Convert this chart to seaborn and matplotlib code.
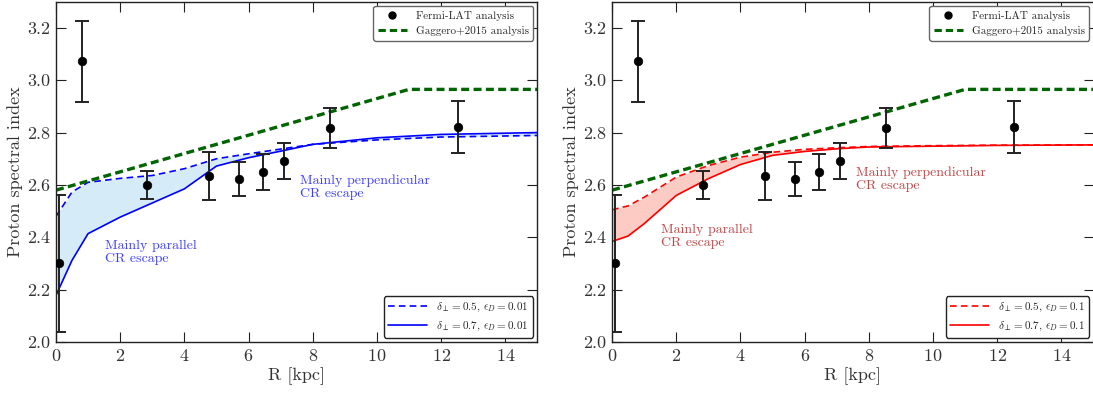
import numpy as np
import pandas as pd
import seaborn as sns
import matplotlib.pyplot as plt
from matplotlib.lines import Line2D

# Fermi-LAT points (R, index, error)
fermi_r = [0.1, 0.82, 2.84, 4.77, 5.69, 6.46, 7.10, 8.53, 12.52]
fermi_idx = [2.30, 3.073, 2.601, 2.634, 2.622, 2.650, 2.691, 2.817, 2.821]
fermi_err = [0.26, 0.155, 0.053, 0.09, 0.066, 0.07, 0.07, 0.075, 0.099]

# Gaggero+2015
gag_r = [0, 11, 15]
gag_idx = [2.58, 2.965, 2.965]

# model curves
model_r = [0, 0.5, 1, 2, 3, 4, 5, 6, 7, 8, 10, 12, 15]
blue_d05 = [2.48, 2.573, 2.61, 2.625, 2.636, 2.662, 2.70, 2.719, 2.737, 2.755, 2.772, 2.783, 2.789]
blue_d07 = [2.178, 2.312, 2.414, 2.477, 2.531, 2.585, 2.672, 2.704, 2.729, 2.755, 2.78, 2.793, 2.80]
red_d05 = [2.505, 2.52, 2.553, 2.63, 2.674, 2.706, 2.725, 2.736, 2.742, 2.747, 2.750, 2.752, 2.753]
red_d07 = [2.384, 2.405, 2.452, 2.56, 2.624, 2.678, 2.713, 2.728, 2.738, 2.745, 2.748, 2.751, 2.753]

panels = [
    dict(d05=blue_d05, d07=blue_d07, col="blue", fill="#d5ebf8", txt="#4040ff", eps="0.01",
         par=(1.52, 2.39), perp=(7.6, 2.64)),
    dict(d05=red_d05, d07=red_d07, col="red", fill="#fccbc3", txt="#c04848", eps="0.1",
         par=(1.52, 2.45), perp=(7.6, 2.672)),
]

sns.set_style("ticks")
plt.rcParams.update({
    "font.family": "serif",
    "font.serif": ["cmr10"],
    "mathtext.fontset": "cm",
    "axes.formatter.use_mathtext": True,
    "axes.unicode_minus": False,
    "axes.edgecolor": "#222222",
    "axes.linewidth": 1.0,
    "xtick.direction": "in",
    "ytick.direction": "in",
    "xtick.major.size": 7.5,
    "ytick.major.size": 7.5,
    "xtick.top": True,
    "ytick.right": True,
})

fig = plt.figure(figsize=(10.93, 3.94), dpi=100)
axes = [fig.add_axes([0.0512, 0.132, 0.4405, 0.8637]),
        fig.add_axes([0.5600, 0.132, 0.4405, 0.8637])]

df = pd.DataFrame({"R": model_r})

for ax, p in zip(axes, panels):
    df["d05"] = p["d05"]
    df["d07"] = p["d07"]
    ax.fill_between(df["R"], df["d05"], df["d07"], color=p["fill"], lw=0)
    sns.lineplot(data=df, x="R", y="d05", ax=ax, color=p["col"], lw=1.2,
                 dashes=False, linestyle=(0, (4, 2.5)))
    sns.lineplot(data=df, x="R", y="d07", ax=ax, color=p["col"], lw=1.2)
    sns.lineplot(x=gag_r, y=gag_idx, ax=ax, color="#006400", lw=2.4,
                 linestyle=(0, (2.4, 1.3)))
    ax.errorbar(fermi_r, fermi_idx, yerr=fermi_err, fmt="none", ecolor="#222222",
                elinewidth=1.4, capsize=5, capthick=1.4, zorder=4)
    sns.scatterplot(x=fermi_r, y=fermi_idx, ax=ax, color="black", s=38,
                    edgecolor="black", zorder=5)

    ax.text(p["par"][0], p["par"][1], "Mainly parallel\nCR escape", color=p["txt"],
            fontsize=10, va="top", ha="left", linespacing=1.1)
    ax.text(p["perp"][0], p["perp"][1], "Mainly perpendicular\nCR escape", color=p["txt"],
            fontsize=10, va="top", ha="left", linespacing=1.1)

    ax.set_xlim(0, 15)
    ax.set_ylim(2.0, 3.3)
    ax.set_xticks(np.arange(0, 15, 2))
    ax.set_yticks(np.arange(2.0, 3.21, 0.2))
    ax.set_yticklabels(["2.0", "2.2", "2.4", "2.6", "2.8", "3.0", "3.2"])
    ax.tick_params(labelsize=13, colors="#222222", labelcolor="#333333", pad=4)
    ax.set_xlabel("R [kpc]", fontsize=13, labelpad=3, color="#333333")
    ax.set_ylabel("Proton spectral index", fontsize=13, labelpad=3, color="#333333")

    h1 = [Line2D([], [], marker="o", ms=5, color="black", ls="none"),
          Line2D([], [], color="#006400", lw=2.2, ls=(0, (2.4, 1.3)))]
    leg1 = ax.legend(h1, ["Fermi-LAT analysis", "Gaggero+2015 analysis"],
                     loc="upper right", fontsize=8, borderaxespad=0.4,
                     fancybox=True, edgecolor="#666666", framealpha=1,
                     handlelength=2.6)
    ax.add_artist(leg1)
    h2 = [Line2D([], [], color=p["col"], lw=1.2, ls=(0, (4, 2.5))),
          Line2D([], [], color=p["col"], lw=1.2)]
    ax.legend(h2, [r"$\delta_\perp = 0.5$, $\epsilon_D = %s$" % p["eps"],
                   r"$\delta_\perp = 0.7$, $\epsilon_D = %s$" % p["eps"]],
              loc="lower right", fontsize=8, borderaxespad=0.4,
              fancybox=True, edgecolor="#222222", framealpha=1,
              handlelength=3.5)

fig.savefig("out.png", dpi=100)
